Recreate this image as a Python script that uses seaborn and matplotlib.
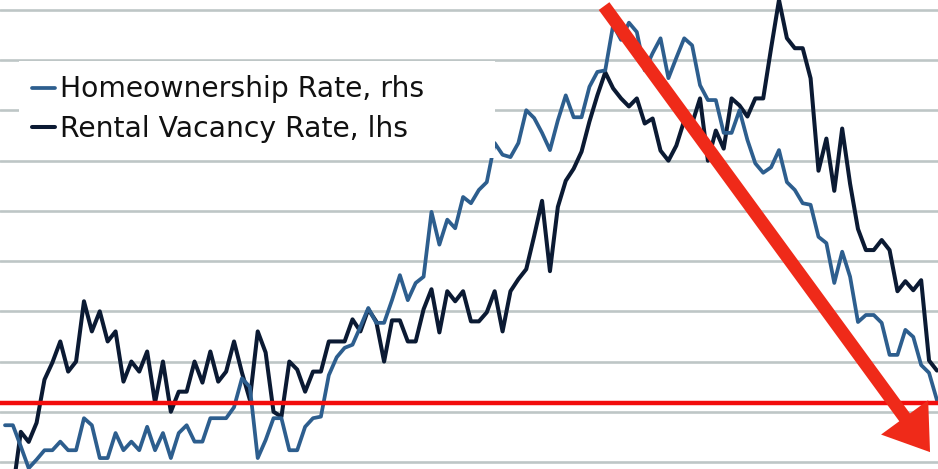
import numpy as np
import pandas as pd
import matplotlib
matplotlib.use("Agg")
import matplotlib.pyplot as plt
import seaborn as sns
from matplotlib.patches import Rectangle

# quarterly data, 1985Q1 - 2014Q3
quarters = pd.period_range("1985Q1", "2014Q3", freq="Q")

# rental vacancy rate, % (lhs)
rental_vacancy = [
    6.27, 6.22, 6.80, 6.70, 6.89, 7.32, 7.49, 7.70, 7.40, 7.50,
    8.10, 7.80, 8.00, 7.70, 7.80, 7.30, 7.50, 7.40, 7.60, 7.09,
    7.50, 7.00, 7.20, 7.20, 7.50, 7.29, 7.60, 7.30, 7.40, 7.70,
    7.39, 7.12, 7.80, 7.59, 7.00, 6.95, 7.50, 7.42, 7.20, 7.40,
    7.40, 7.70, 7.70, 7.70, 7.92, 7.80, 8.02, 7.90, 7.50, 7.91,
    7.91, 7.70, 7.70, 8.02, 8.22, 7.79, 8.20, 8.10, 8.20, 7.90,
    7.90, 7.99, 8.20, 7.80, 8.20, 8.32, 8.42, 8.75, 9.10, 8.40,
    9.04, 9.30, 9.42, 9.59, 9.89, 10.15, 10.38, 10.22, 10.12, 10.04,
    10.12, 9.87, 9.92, 9.60, 9.50, 9.65, 9.90, 9.87, 10.12, 9.50,
    9.80, 9.62, 10.12, 10.05, 9.94, 10.12, 10.12, 10.62, 11.10, 10.72,
    10.62, 10.62, 10.32, 9.40, 9.72, 9.20, 9.82, 9.27, 8.82, 8.61,
    8.61, 8.71, 8.61, 8.20, 8.30, 8.21, 8.31, 7.51, 7.41,
]

# homeownership rate, % (rhs)
homeownership = [
    64.06, 64.06, 63.79, 63.51, 63.62, 63.74, 63.74, 63.85, 63.74, 63.74,
    64.15, 64.06, 63.64, 63.64, 63.96, 63.74, 63.85, 63.74, 64.04, 63.74,
    63.96, 63.64, 63.96, 64.06, 63.85, 63.85, 64.15, 64.15, 64.15, 64.29,
    64.66, 64.55, 63.64, 63.87, 64.15, 64.15, 63.74, 63.74, 64.04, 64.15,
    64.17, 64.70, 64.93, 65.05, 65.09, 65.32, 65.56, 65.37, 65.37, 65.66,
    65.98, 65.66, 65.88, 65.96, 66.79, 66.37, 66.69, 66.58, 66.98, 66.90,
    67.07, 67.17, 67.67, 67.52, 67.49, 67.67, 68.09, 67.99, 67.80, 67.58,
    67.96, 68.28, 68.00, 68.00, 68.39, 68.58, 68.60, 69.18, 68.99, 69.21,
    69.09, 68.60, 68.82, 69.01, 68.50, 68.76, 69.01, 68.92, 68.41, 68.22,
    68.22, 67.80, 67.80, 68.09, 67.71, 67.41, 67.29, 67.36, 67.58, 67.17,
    67.07, 66.90, 66.88, 66.47, 66.39, 65.88, 66.28, 65.96, 65.38, 65.47,
    65.47, 65.37, 64.96, 64.96, 65.28, 65.19, 64.83, 64.73, 64.38,
]

# level marked by the red horizontal line (rhs)
homeownership_mark = 64.34

labels = ["Homeownership Rate, rhs", "Rental Vacancy Rate, lhs"]

BLUE = "#2D5E8E"
NAVY = "#0B1A33"
RED_LINE = "#F20C0C"
RED_ARROW = "#EF2A19"
GRID = "#BEC6C6"

sns.set_theme(style="white")
plt.rcParams["font.family"] = ["DejaVu Sans"]

df = pd.DataFrame({
    "t": quarters.year + (quarters.quarter - 1) / 4,
    "rental": rental_vacancy,
    "home": homeownership,
})

fig = plt.figure(figsize=(9.38, 4.69), dpi=100)
ax = fig.add_axes([0, 0, 1, 1])
ax2 = ax.twinx()

sns.lineplot(data=df, x="t", y="rental", ax=ax, color=NAVY, lw=2.9, legend=False)
sns.lineplot(data=df, x="t", y="home", ax=ax2, color=BLUE, lw=2.7, legend=False)

ax.set_xlim(1984.842, 2014.533)
ax.set_ylim(6.43, 11.10)
ax2.set_ylim(63.5, 69.5)

ax.set_yticks(np.arange(6.5, 11.01, 0.5))
ax.grid(axis="y", color=GRID, lw=1.9)
ax.grid(axis="x", visible=False)
ax2.grid(False)
for a in (ax, ax2):
    a.set_xlabel("")
    a.set_ylabel("")
    a.tick_params(length=0, labelleft=False, labelright=False, labelbottom=False)
    for s in a.spines.values():
        s.set_visible(False)

# red level line and downward arrow
ax2.axhline(homeownership_mark, color=RED_LINE, lw=3.2, zorder=3)
ax2.annotate("", xy=(0.9915, 0.036), xytext=(0.644, 0.987),
             xycoords="axes fraction", textcoords="axes fraction",
             arrowprops=dict(arrowstyle="simple,head_length=3.1,head_width=4.2,tail_width=0.95",
                             mutation_scale=10, fc=RED_ARROW, ec="none", lw=0,
                             shrinkA=0, shrinkB=0),
             zorder=6)

# legend box
ax2.add_patch(Rectangle((0.0203, 0.663), 0.5074, 0.207, transform=ax2.transAxes,
                        facecolor="white", edgecolor="none", zorder=4))
handles = [ax2.get_lines()[0], ax.get_lines()[0]]
ax2.legend(handles, labels, loc="upper left", bbox_to_anchor=(32 / 938, 1 - 75.5 / 469),
           borderaxespad=0, borderpad=0, frameon=False, fontsize=20.3,
           handlelength=0.82, handletextpad=0.18, labelspacing=0.42,
           labelcolor="#111111")

fig.savefig("out.png", dpi=100, facecolor="white")
